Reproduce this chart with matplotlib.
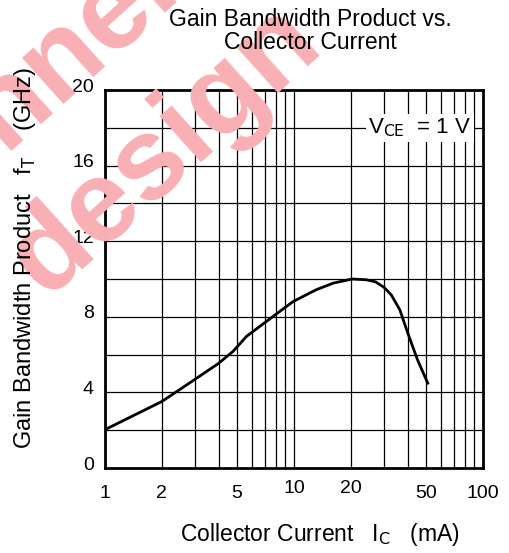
import numpy as np
import matplotlib
matplotlib.use("Agg")
import matplotlib.pyplot as plt
import matplotlib.transforms as mtransforms
from matplotlib.ticker import FixedLocator, NullFormatter, NullLocator

# curve
ic_ma = [1.0, 2.0, 2.93, 3.97, 4.76, 5.6, 6.96, 8.4, 9.9, 13.1, 16.1, 20.3,
         24.1, 27.0, 30.0, 32.7, 36.3, 40.0, 45.0, 51.0]
ft_ghz = [2.03, 3.52, 4.63, 5.52, 6.17, 6.96, 7.67, 8.28, 8.81, 9.43, 9.78, 10.0,
          9.96, 9.85, 9.55, 9.16, 8.37, 7.14, 5.73, 4.49]

x_ticks = [1, 2, 5, 10, 20, 50, 100]
x_tick_labels = ["1", "2", "5", "10", "20", "50", "100"]
y_ticks = [0, 4, 8, 12, 16, 20]

plt.rcParams["font.family"] = ["Liberation Sans", "DejaVu Sans"]

fig = plt.figure(figsize=(5.1, 5.53), dpi=100)
ax = fig.add_axes([105 / 510, 1 - 468 / 553, 378 / 510, 378 / 553])
ax.patch.set_alpha(0)

# watermark (behind everything)
wm = dict(color="#f8b0b5", fontsize=84, fontweight="bold", rotation=42,
          ha="center", va="center", rotation_mode="anchor", zorder=0)
fig.text(165 / 510, 1 - 150 / 553, "design", **wm)
fig.text(72 / 510, 1 - 48 / 553, "nnel", **wm)

ax.set_xscale("log")
ax.set_xlim(1, 100)
ax.set_ylim(0, 20)

# grid: every log minor, every 2 GHz
vgrid = [m * 10 ** d for d in range(2) for m in range(2, 10)] + [10]
for v in vgrid:
    ax.axvline(v, color="black", lw=0.9, zorder=1)
for h in range(2, 20, 2):
    ax.axhline(h, color="black", lw=0.9, zorder=1)

ax.plot(ic_ma, ft_ghz, color="black", lw=2, zorder=3)

ax.xaxis.set_major_locator(FixedLocator(x_ticks))
ax.set_xticklabels(x_tick_labels)
ax.xaxis.set_minor_locator(NullLocator())
ax.xaxis.set_minor_formatter(NullFormatter())
ax.set_yticks(y_ticks)
ax.tick_params(length=0, labelsize=14, pad=12)
ax.tick_params(axis="y", pad=8)
up = mtransforms.ScaledTranslation(0, 5 / 100, fig.dpi_scale_trans)
for lab in ax.get_yticklabels():
    lab.set_transform(lab.get_transform() + up)
# "10" and "20" sit a little higher in the original
for lab in ax.get_xticklabels():
    if lab.get_text() in ("10", "20"):
        lab.set_transform(lab.get_transform() + up)

for s in ax.spines.values():
    s.set_linewidth(2)

ax.text(0.97, 0.9, r"V$_{\mathrm{CE}}$  = 1 V", transform=ax.transAxes,
        ha="right", va="center", fontsize=16, zorder=4,
        bbox=dict(facecolor="white", edgecolor="none", pad=2))

fig.text(310 / 510, 1 - 31 / 553, "Gain Bandwidth Product vs.\nCollector Current",
         ha="center", va="center", fontsize=16.5, linespacing=1.05)
fig.text(320 / 510, 1 - 535 / 553, r"Collector Current   I$_{\mathrm{C}}$   (mA)",
         ha="center", va="center", fontsize=16.5)
fig.text(25 / 510, 1 - 258 / 553, r"Gain Bandwidth Product   f$_{\mathrm{T}}$    (GHz)",
         ha="center", va="center", rotation=90, fontsize=17)

fig.savefig("out.png", dpi=100)
